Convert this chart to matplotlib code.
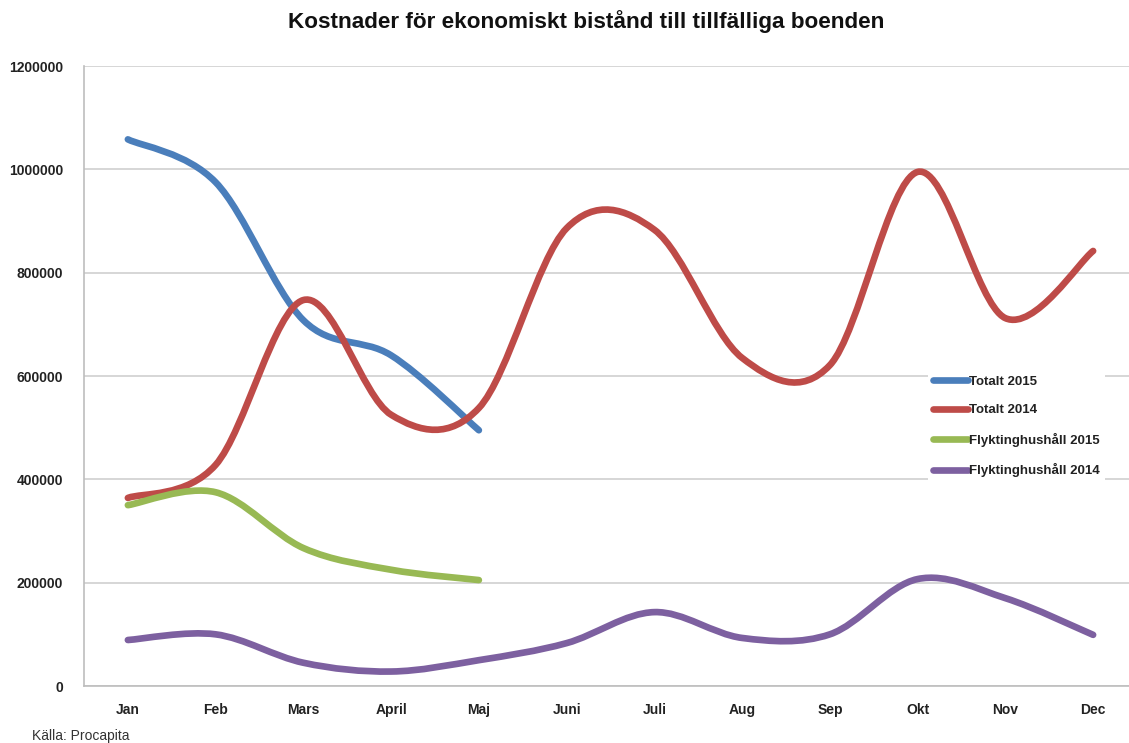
import numpy as np
import matplotlib
matplotlib.use("Agg")
import matplotlib.pyplot as plt
from matplotlib.path import Path
from matplotlib.patches import PathPatch
from matplotlib.lines import Line2D

plt.rcParams["font.family"] = ["Liberation Sans", "DejaVu Sans"]

# Data
manader = ["Jan", "Feb", "Mars", "April", "Maj", "Juni", "Juli",
           "Aug", "Sep", "Okt", "Nov", "Dec"]
totalt_2015 = [1058000, 975000, 708000, 640000, 495000]
totalt_2014 = [364000, 428000, 747000, 525000, 538000, 886000, 883000,
               635000, 621000, 995000, 712000, 842000]
flykt_2015 = [350000, 375000, 267000, 225000, 205000]
flykt_2014 = [89000, 100000, 45000, 28000, 50000, 83000, 143000,
              93000, 100000, 207000, 170000, 99000]
y_ticks = [0, 200000, 400000, 600000, 800000, 1000000, 1200000]

series = [
    ("Totalt 2015", totalt_2015, "#4A7EBB"),
    ("Totalt 2014", totalt_2014, "#BE4B48"),
    ("Flyktinghushåll 2015", flykt_2015, "#98B954"),
    ("Flyktinghushåll 2014", flykt_2014, "#7D60A0"),
]


def smooth_path(xs, ys):
    # Excel-style smoothed line: cubic Bezier segments (Catmull-Rom tangents)
    pts = np.column_stack([xs, ys]).astype(float)
    n = len(pts)
    verts = [pts[0]]
    codes = [Path.MOVETO]
    for i in range(n - 1):
        p0 = pts[i - 1] if i > 0 else pts[i]
        p1 = pts[i]
        p2 = pts[i + 1]
        p3 = pts[i + 2] if i + 2 < n else pts[i + 1]
        c1 = p1 + (p2 - p0) / 6.0
        c2 = p2 - (p3 - p1) / 6.0
        verts += [c1, c2, p2]
        codes += [Path.CURVE4] * 3
    return Path(verts, codes)


W, H = 1129, 743
fig = plt.figure(figsize=(W / 100, H / 100), dpi=100)
ax = fig.add_axes([84 / W, (H - 686) / H, 1053 / W, 620 / H])

handles = []
for name, vals, col in series:
    x = np.arange(len(vals))
    patch = PathPatch(smooth_path(x, vals), facecolor="none", edgecolor=col,
                      lw=4.8, capstyle="round", joinstyle="round", zorder=3)
    ax.add_patch(patch)
    handles.append(Line2D([], [], color=col, lw=4.8, solid_capstyle="round", label=name))

ax.set_xlim(-0.5, len(manader) - 0.5)
ax.set_ylim(0, 1200000)
ax.set_xticks(range(len(manader)))
ax.set_xticklabels(manader)
ax.set_yticks(y_ticks)
ax.set_yticklabels([str(v) for v in y_ticks])
ax.tick_params(length=0, labelsize=10, colors="#222222", pad=12)
ax.tick_params(axis="y", pad=15)
for lbl in ax.get_xticklabels() + ax.get_yticklabels():
    lbl.set_fontweight("bold")
ax.grid(axis="y", color="#CFCFCF", lw=1.2)
ax.set_axisbelow(True)
for side in ["top", "right"]:
    ax.spines[side].set_visible(False)
for side in ["left", "bottom"]:
    ax.spines[side].set_color("#BDBDBD")
    ax.spines[side].set_linewidth(1.2)

leg = ax.legend(handles=handles, loc="upper left",
                bbox_to_anchor=(928 / W, 1 - 370 / H), bbox_transform=fig.transFigure,
                frameon=True, framealpha=1, edgecolor="none", facecolor="white",
                fancybox=False, borderpad=0.4, labelspacing=1.25,
                handlelength=2.6, handletextpad=0.1, borderaxespad=0,
                prop={"size": 9.5, "weight": "bold"})
for t in leg.get_texts():
    t.set_color("#222222")

fig.text(0.5 * (290 + 883) / W, 1 - 22 / H,
         "Kostnader för ekonomiskt bistånd till tillfälliga boenden",
         ha="center", va="center", fontsize=16.2, fontweight="bold", color="#111111")
fig.text(32 / W, 1 - 736 / H, "Källa: Procapita", ha="left", va="center",
         fontsize=10, color="#333333")

fig.savefig("out.png", dpi=100)
